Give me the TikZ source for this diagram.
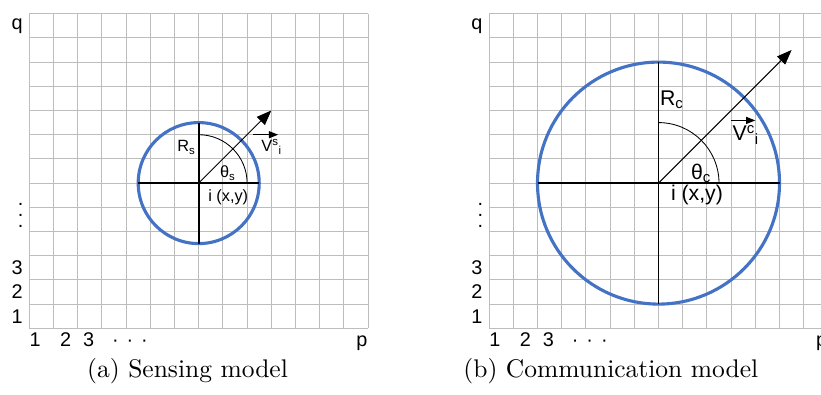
\documentclass[tikz,border=0pt]{standalone}
\usepackage{fontspec}
\newfontfamily\labelfont{Liberation Sans}
\newfontfamily\capfont[Extension=.otf]{lmroman10-regular}
\usepackage{tikz}
\usetikzlibrary{positioning,arrows.meta,calc}
\definecolor{gridGray}{HTML}{BDBDBD}
\definecolor{rangeBlue}{HTML}{4472C4}
\tikzset{
 gridline/.style={draw=gridGray, line width=0.7pt, step=1},
 axislabel/.style={font=\labelfont\fontsize{14}{16}\selectfont, inner sep=0pt},
 rangecircle/.style={circle, draw=rangeBlue, line width=2.2pt, inner sep=0pt, outer sep=0pt},
 crossline/.style={line width=1.3pt},
 anglearc/.style={line width=0.6pt},
 headingarrow/.style={-{Triangle[length=10.5pt,width=8pt]}, line width=0.65pt},
 vecbar/.style={-{Triangle[length=6.5pt,width=5pt]}, line width=0.65pt},
 smalllabel/.style={font=\labelfont\fontsize{11.5}{13}\selectfont, inner sep=0pt},
 biglabel/.style={font=\labelfont\fontsize{15}{17}\selectfont, inner sep=0pt},
 captiontext/.style={font=\capfont\fontsize{18}{20}\selectfont, inner sep=0pt},
}
% grid with its axis numbers, #1 = x offset, #2 = name prefix
\newcommand{\gridpanel}[2]{%
 \draw[gridline] (#1,0) grid (#1+14,13);
 \node[axislabel, anchor=base] (#2q) at (#1-0.5,12.35) {q};
 \foreach \n in {1,2,3}
  \node[axislabel] (#2y\n) at (#1-0.5,\n-0.5) {\n};
 \node[axislabel, align=center, font=\labelfont\fontsize{14}{7.8}\selectfont] (#2vd) at (#1-0.36,4.68) {.\\.\\.};
 \node[axislabel, anchor=base] (#2x1) at (#1+0.24,-0.76) {1};
 \node[axislabel, anchor=base] (#2x2) at (#1+1.5,-0.76) {2};
 \node[axislabel, anchor=base] (#2x3) at (#1+2.45,-0.76) {3};
 \node[axislabel, anchor=base] (#2xd) at (#1+4.16,-0.76) {·\hspace{0.4em}·\hspace{0.4em}·};
 \node[axislabel, anchor=base] (#2xp) at (#1+13.74,-0.76) {p};
}

\begin{document}
\begin{tikzpicture}[x=0.6cm, y=0.6cm]
\useasboundingbox (-1.211,-2.715) rectangle (32.715,13.566);
\clip (-1.211,-2.715) rectangle (32.715,13.566);

% (a) sensing model
\gridpanel{0}{s}
\node[rangecircle, minimum size=3cm] (scirc) at (7,6) {};
\draw[crossline] (scirc.west) -- (scirc.east);
\draw[crossline] (scirc.north) -- (scirc.south);
\draw[anglearc] ($(scirc.center)+(0,2)$) arc[start angle=90, end angle=0, radius=2];
\coordinate (shead) at ($(scirc.center)+(3,3)$);
\draw[headingarrow] (scirc.center) -- (shead);
\node[smalllabel] (srad) at ($(scirc.center)+(-0.51,1.48)$) {R\textsubscript{s}};
\node[smalllabel] (sang) at ($(scirc.center)+(1.2,0.41)$) {θ\textsubscript{s}};
\node[smalllabel] (spos) at ($(scirc.center)+(1.22,-0.6)$) {i (x,y)};
\node[smalllabel, anchor=west] (svec) at ($(scirc.center)+(2.58,1.5)$) {V\textsuperscript{s}\textsubscript{i}};
\coordinate (svecA) at ($(scirc.center)+(2.25,2.0)$);
\coordinate (svecB) at ($(scirc.center)+(3.28,2.0)$);
\draw[vecbar] (svecA) -- (svecB);
\node[captiontext] (scap) at (6.54,-1.76) {(a) Sensing model};

% (b) communication model
\gridpanel{19}{c}
\node[rangecircle, minimum size=6cm] (ccirc) at (26,6) {};
\draw[crossline] (ccirc.west) -- (ccirc.east);
\draw[crossline] (ccirc.north) -- (ccirc.south);
\draw[anglearc] ($(ccirc.center)+(0,2.5)$) arc[start angle=90, end angle=0, radius=2.5];
\coordinate (chead) at ($(ccirc.center)+(5.5,5.5)$);
\draw[headingarrow] (ccirc.center) -- (chead);
\node[biglabel] (crad) at ($(ccirc.center)+(0.55,3.46)$) {R\textsubscript{c}};
\node[biglabel] (cang) at ($(ccirc.center)+(1.76,0.4)$) {θ\textsubscript{c}};
\node[biglabel] (cpos) at ($(ccirc.center)+(1.59,-0.49)$) {i (x,y)};
\node[biglabel, anchor=west] (cvec) at ($(ccirc.center)+(3.05,2.0)$) {V\textsuperscript{c}\textsubscript{i}};
\coordinate (cvecA) at ($(ccirc.center)+(3.0,2.59)$);
\coordinate (cvecB) at ($(ccirc.center)+(4.0,2.59)$);
\draw[vecbar] (cvecA) -- (cvecB);
\node[captiontext] (ccap) at (24.03,-1.76) {(b) Communication model};
\end{tikzpicture}
\end{document}
